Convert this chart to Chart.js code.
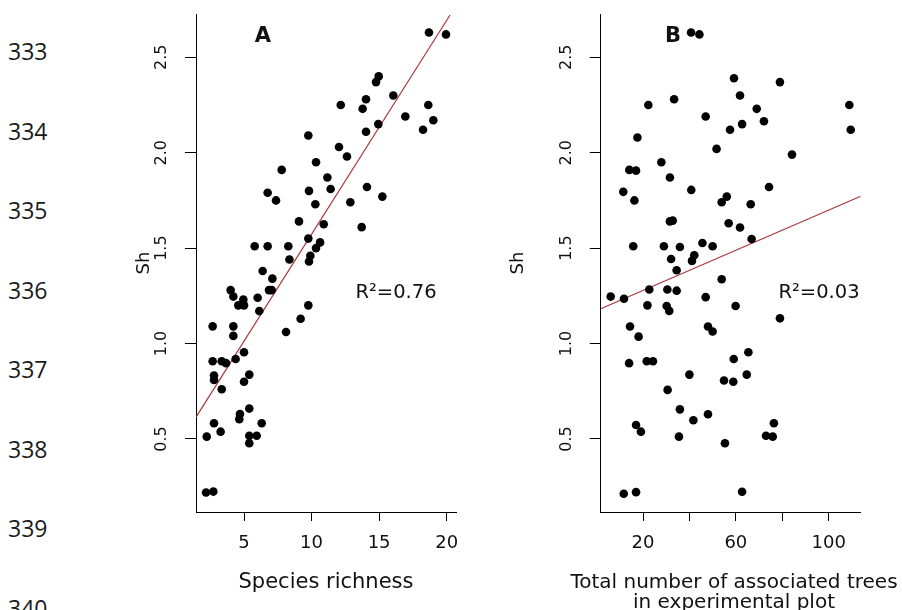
<!DOCTYPE html>
<html lang="en">
<head>
<meta charset="UTF-8">
<title>Sh vs species richness and associated trees</title>
<script src="https://cdn.jsdelivr.net/npm/chart.js"></script>
<style>
    body {
        margin: 0;
        background: #fff;
        width: 902px;
        height: 610px;
        overflow: hidden;
        position: relative;
    }
    .lineno {
        position: absolute;
        left: 8px;
        font-family: 'Open Sans', sans-serif;
        font-size: 23px;
        line-height: 24px;
        color: #1a1a1a;
    }
    canvas { position: absolute; top: 0; }
    #chartA { left: 100px; }
    #chartB { left: 470px; }
</style>
</head>
<body>
<div id="lines"></div>
<canvas id="chartA" width="370" height="610"></canvas>
<canvas id="chartB" width="432" height="610"></canvas>

<script>
// page line numbers down the left margin
const lineNumbers = [333, 334, 335, 336, 337, 338, 339, 340];

// panel A: species richness vs Sh
const richness = [
    18.69, 19.95, 14.97, 14.77, 16.05, 12.16, 14.03, 13.78, 18.64, 16.94,
    19.01, 18.25, 14.94, 14.03, 9.76, 12.03, 12.62, 10.33, 7.79, 11.17,
    6.75, 7.37, 9.81, 11.41, 14.10, 15.24, 10.28, 12.87, 9.07, 10.90,
    13.71, 9.76, 5.79, 6.75, 8.28, 10.63, 10.33, 8.36, 9.91, 9.81,
    6.38, 7.10, 4.01, 4.21, 4.95, 6.01, 6.85, 7.05, 4.58, 5.00,
    6.13, 9.76, 9.19, 8.11, 2.68, 4.21, 4.21, 5.00, 2.68, 3.35,
    3.67, 4.38, 2.78, 5.39, 2.78, 5.00, 3.35, 5.39, 4.70, 4.65,
    2.78, 6.31, 3.27, 2.24, 5.39, 5.94, 5.39, 2.19, 2.73
];
const shA = [
    2.63, 2.62, 2.40, 2.37, 2.30, 2.25, 2.28, 2.23, 2.25, 2.19,
    2.17, 2.12, 2.15, 2.11, 2.09, 2.03, 1.98, 1.95, 1.91, 1.87,
    1.79, 1.75, 1.80, 1.81, 1.82, 1.77, 1.73, 1.74, 1.64, 1.625,
    1.61, 1.55, 1.51, 1.51, 1.51, 1.53, 1.50, 1.44, 1.46, 1.43,
    1.38, 1.34, 1.28, 1.246, 1.23, 1.24, 1.28, 1.28, 1.20, 1.20,
    1.17, 1.20, 1.13, 1.06, 1.09, 1.09, 1.04, 0.954, 0.907, 0.907,
    0.897, 0.919, 0.832, 0.837, 0.809, 0.80, 0.76, 0.659, 0.631, 0.603,
    0.582, 0.582, 0.538, 0.512, 0.516, 0.517, 0.477, 0.219, 0.224
];

// panel B: total number of associated trees vs Sh
const trees = [
    40.7, 44.3, 59.2, 79.0, 61.8, 33.4, 22.3, 69.0, 108.9, 47.0,
    72.1, 62.7, 57.5, 109.5, 17.6, 51.7, 84.2, 27.9, 14.1, 17.0,
    31.6, 74.3, 11.5, 40.8, 16.3, 56.1, 53.9, 66.4, 31.6, 32.8,
    56.9, 61.8, 66.8, 15.8, 29.0, 35.9, 45.6, 50.0, 32.1, 42.1,
    41.1, 34.5, 53.9, 6.07, 11.8, 22.7, 30.5, 34.5, 47.0, 21.9,
    30.2, 31.3, 59.9, 79.0, 14.4, 48.0, 50.0, 18.1, 65.4, 14.0,
    21.6, 24.3, 59.1, 40.0, 54.9, 58.9, 64.7, 30.6, 35.9, 41.7,
    48.0, 17.0, 19.1, 73.0, 75.9, 76.4, 35.5, 55.3, 11.7, 17.0, 62.7
];
const shB = [
    2.63, 2.62, 2.39, 2.37, 2.30, 2.28, 2.25, 2.23, 2.25, 2.19,
    2.165, 2.15, 2.12, 2.12, 2.08, 2.02, 1.99, 1.95, 1.91, 1.906,
    1.87, 1.82, 1.795, 1.805, 1.75, 1.77, 1.74, 1.73, 1.64, 1.644,
    1.63, 1.608, 1.548, 1.51, 1.51, 1.506, 1.527, 1.51, 1.443, 1.463,
    1.433, 1.384, 1.337, 1.246, 1.235, 1.283, 1.283, 1.277, 1.243, 1.20,
    1.197, 1.171, 1.197, 1.132, 1.089, 1.089, 1.063, 1.036, 0.954, 0.897,
    0.907, 0.907, 0.919, 0.837, 0.806, 0.80, 0.837, 0.757, 0.655, 0.598,
    0.629, 0.573, 0.538, 0.517, 0.512, 0.582, 0.512, 0.477, 0.213, 0.221, 0.223
];

// fitted lines, end points
const fitAx = [1.45, 20.25];
const fitAy = [0.614, 2.722];
const fitBx = [1.77, 113.8];
const fitBy = [1.182, 1.772];

// axes
const shTicks = [0.5, 1.0, 1.5, 2.0, 2.5];
const richnessTicks = [5, 10, 15, 20];
const richnessLabels = ['5', '10', '15', '20'];
const treeTicks = [20, 40, 60, 80, 100];
const treeLabels = ['20', '', '60', '', '100'];

// line numbers
const linesDiv = document.getElementById('lines');
lineNumbers.forEach((n, i) => {
    const d = document.createElement('div');
    d.className = 'lineno';
    d.style.top = (39 + i * 79.5) + 'px';
    d.textContent = n;
    linesDiv.appendChild(d);
});

Chart.defaults.font.family = "'DejaVu Sans', sans-serif";
Chart.defaults.color = '#111';

// draws panel letters, R² notes and any long axis caption
const panelText = {
    id: 'panelText',
    afterDraw(chart, args, opts) {
        const ctx = chart.ctx;
        ctx.save();
        ctx.fillStyle = '#111';
        ctx.textAlign = 'center';
        ctx.textBaseline = 'alphabetic';
        opts.items.forEach(t => {
            ctx.font = t.font;
            ctx.fillText(t.text, t.x, t.y);
        });
        ctx.restore();
    }
};

function toPoints(xs, ys) {
    return xs.map((x, i) => ({x: x, y: ys[i]}));
}

// no extra room for overhanging labels, keep the plot box where the figure has it
function noOverhang(s) {
    s.paddingTop = 0;
    s.paddingBottom = 0;
    s.paddingLeft = 0;
    s.paddingRight = 0;
}

function makePanel(canvasId, p) {
    const ctx = document.getElementById(canvasId).getContext('2d');
    return new Chart(ctx, {
        type: 'scatter',
        data: {
            datasets: [{
                data: toPoints(p.xs, p.ys),
                pointRadius: 4.3,
                pointBackgroundColor: '#000',
                pointBorderWidth: 0,
                order: 1
            }, {
                type: 'line',
                data: toPoints(p.fitX, p.fitY),
                borderColor: '#a8383c',
                borderWidth: 1.2,
                pointRadius: 0,
                fill: false,
                order: 2
            }]
        },
        options: {
            responsive: false,
            animation: false,
            layout: { padding: { top: 14, right: p.rightPad, bottom: 0, left: 0 } },
            plugins: {
                legend: { display: false },
                tooltip: { enabled: false },
                panelText: { items: p.texts }
            },
            scales: {
                x: {
                    type: 'linear',
                    min: p.xMin,
                    max: p.xMax,
                    afterBuildTicks: s => { s.ticks = p.xTicks.map(v => ({value: v})); },
                    afterFit: s => { s.height = 98; noOverhang(s); },
                    border: { display: true, color: '#000', width: 1 },
                    grid: { drawOnChartArea: false, color: '#000', tickLength: 9 },
                    ticks: {
                        autoSkip: false,
                        maxRotation: 0,
                        padding: 12,
                        font: { size: 18 },
                        callback: (v, i) => p.xLabels[i]
                    },
                    title: {
                        display: p.xTitle !== '',
                        text: p.xTitle,
                        font: { size: 21 },
                        padding: { top: 0, bottom: 15 }
                    }
                },
                y: {
                    type: 'linear',
                    min: 0.117,
                    max: 2.727,
                    afterBuildTicks: s => { s.ticks = shTicks.map(v => ({value: v})); },
                    afterFit: s => { s.width = p.yWidth; noOverhang(s); },
                    border: { display: true, color: '#000', width: 1 },
                    grid: { drawOnChartArea: false, color: '#000', tickLength: 11 },
                    ticks: {
                        minRotation: 90,
                        maxRotation: 90,
                        crossAlign: 'center',
                        padding: 10,
                        font: { size: 16 },
                        callback: v => v.toFixed(1)
                    },
                    title: {
                        display: true,
                        text: 'Sh',
                        font: { size: 18 },
                        padding: { top: p.shPad, bottom: 0 }
                    }
                }
            }
        },
        plugins: [panelText]
    });
}

makePanel('chartA', {
    xs: richness, ys: shA, fitX: fitAx, fitY: fitAy,
    xMin: 1.447, xMax: 20.69, xTicks: richnessTicks, xLabels: richnessLabels,
    xTitle: 'Species richness',
    yWidth: 96, rightPad: 14, shPad: 34,
    texts: [
        { text: 'A', x: 163, y: 42, font: "bold 21px 'DejaVu Sans'" },
        { text: 'R²=0.76', x: 296, y: 298, font: "19.5px 'DejaVu Sans'" }
    ]
});

makePanel('chartB', {
    xs: trees, ys: shB, fitX: fitBx, fitY: fitBy,
    xMin: 1.77, xMax: 113.8, xTicks: treeTicks, xLabels: treeLabels,
    xTitle: '',
    yWidth: 130.7, rightPad: 41.3, shPad: 38,
    texts: [
        { text: 'B', x: 203, y: 42, font: "bold 21px 'DejaVu Sans'" },
        { text: 'R²=0.03', x: 349, y: 298, font: "19.5px 'DejaVu Sans'" },
        { text: 'Total number of associated trees', x: 264, y: 588, font: "20px 'DejaVu Sans'" },
        { text: 'in experimental plot', x: 264, y: 608, font: "20px 'DejaVu Sans'" }
    ]
});
</script>
</body>
</html>
